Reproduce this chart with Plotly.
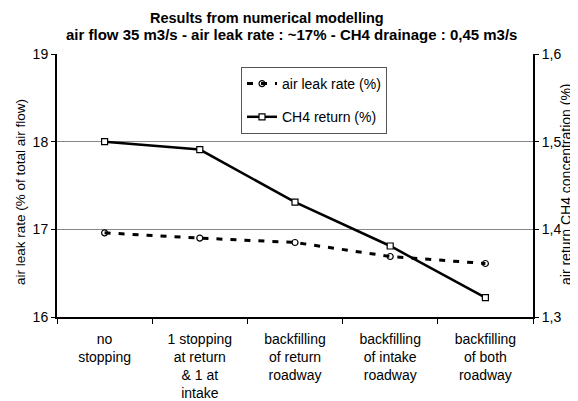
import plotly.graph_objects as go

categories = ["no<br>stopping", "1 stopping<br>at return<br>& 1 at<br>intake",
              "backfilling<br>of return<br>roadway", "backfilling<br>of intake<br>roadway",
              "backfilling<br>of both<br>roadway"]
air_leak = [16.96, 16.90, 16.85, 16.69, 16.61]
ch4_return = [1.500, 1.491, 1.431, 1.381, 1.322]
left_ticks = [16, 17, 18, 19]
right_ticks = [1.3, 1.4, 1.5, 1.6]
right_ticktext = ["1,3", "1,4", "1,5", "1,6"]

FONT = "Arial, Liberation Sans, sans-serif"

# page body has an 8px margin, so the figure is drawn 8px smaller and shifted
fig = go.Figure()
fig.add_trace(go.Scatter(
    x=categories, y=air_leak, name="air leak rate (%)", mode="lines+markers",
    legendgroup="a",
    line=dict(color="black", width=3, dash="6px,8px"),
    marker=dict(symbol="circle-open", size=6, color="black", line=dict(width=1.2)),
    yaxis="y"))
fig.add_trace(go.Scatter(
    x=categories, y=ch4_return, name="CH4 return (%)", mode="lines+markers",
    legendgroup="b",
    line=dict(color="black", width=2.5),
    marker=dict(symbol="square", size=6, color="white", line=dict(width=1.2, color="black")),
    yaxis="y2"))

fig.update_layout(
    width=570, height=393,
    margin=dict(l=49, r=45, t=46, b=84),
    paper_bgcolor="white", plot_bgcolor="white",
    font=dict(family=FONT, color="black", size=13),
    showlegend=True,
    legend=dict(x=(241 - 57) / 476, y=(317 - 67) / 263, xanchor="left", yanchor="top",
                bordercolor="#555", borderwidth=1, bgcolor="white",
                font=dict(size=14, family=FONT), itemwidth=30, tracegroupgap=12),
    xaxis=dict(type="category", showgrid=False, showline=True, linecolor="black", linewidth=2,
               ticks="outside", tickson="boundaries", ticklen=5, tickcolor="black",
               tickfont=dict(size=14), range=[-0.5, 4.5], ticklabelstandoff=8,
               automargin=False),
    yaxis=dict(range=[16, 19], tickvals=left_ticks, showline=True, linecolor="black", linewidth=2,
               ticks="outside", ticklen=4, tickcolor="black", showgrid=True, gridcolor="#888",
               gridwidth=1, tickfont=dict(size=14), zeroline=False, automargin=False),
    yaxis2=dict(range=[1.3, 1.6], tickvals=right_ticks, ticktext=right_ticktext, overlaying="y",
                side="right", showline=True, linecolor="black", linewidth=2, ticks="outside",
                ticklen=4, tickcolor="black", showgrid=False, tickfont=dict(size=14),
                zeroline=False, automargin=False),
    annotations=[
        dict(text="<b>Results from numerical modelling</b>", xref="paper", yref="paper",
             x=(267 - 57) / 476, y=1 + (54 - 18) / 263, xanchor="center", yanchor="middle",
             showarrow=False, font=dict(size=14.5)),
        dict(text="<b>air flow 35 m3/s - air leak rate : ~17% - CH4 drainage : 0,45 m3/s</b>",
             xref="paper", yref="paper", x=(291 - 57) / 476, y=1 + (54 - 34) / 263,
             xanchor="center", yanchor="middle", showarrow=False, font=dict(size=15)),
        dict(text="air leak rate (% of total air flow)", xref="paper", yref="paper",
             x=(20 - 57) / 476, y=(317 - 192) / 263, textangle=-90, xanchor="center",
             yanchor="middle", showarrow=False, font=dict(size=13.5)),
        dict(text="air return CH4 concentration (%)", xref="paper", yref="paper",
             x=(566 - 57) / 476, y=(317 - 184) / 263, textangle=-90, xanchor="center",
             yanchor="middle", showarrow=False, font=dict(size=14)),
    ],
)

fig.write_html("out.html")
